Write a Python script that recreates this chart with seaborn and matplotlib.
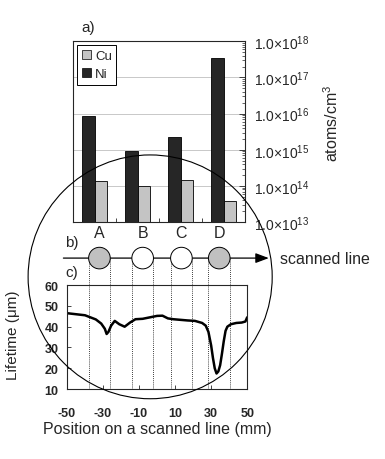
"""Impurity concentrations at spots A-D and lifetime profile along the scanned line."""

import matplotlib.pyplot as plt
import numpy as np
import pandas as pd
import seaborn as sns
from matplotlib.patches import Ellipse, Patch
from matplotlib.ticker import FixedLocator, LogLocator, NullFormatter

sns.set_style("ticks")
plt.rcParams["font.family"] = ["Liberation Sans", "DejaVu Sans"]
plt.rcParams["mathtext.fontset"] = "custom"
plt.rcParams["mathtext.rm"] = "Liberation Sans"

# a) impurity concentrations (atoms/cm3)
sites = ["A", "B", "C", "D"]
ni_conc = [8.5e15, 9.0e14, 2.2e15, 3.4e17]
cu_conc = [1.4e14, 1.0e14, 1.5e14, 3.8e13]
conc_ticks = [1e13, 1e14, 1e15, 1e16, 1e17, 1e18]
conc_labels = ["1.0\u00d710$^{%d}$" % e for e in range(13, 19)]

# b) spot centres on the scanned line (mm) and spot width
spot_centers = [-32, -8, 13.5, 34.5]
spot_width = 12
spot_filled = [True, False, False, True]

# c) lifetime along the scanned line
position = [-50, -45, -40, -37, -34, -31, -29, -28, -27, -25.5, -23.5, -21, -18, -15,
            -12, -8, -4, 0, 3, 6, 9, 13, 17, 21, 25, 27, 28.5, 30, 31, 32, 33, 34,
            35, 36, 37, 38, 39, 41, 44, 47, 49, 50]
lifetime = [46.5, 46, 45.5, 44.5, 43.5, 41.5, 39, 36.5, 37.5, 40.5, 42.8, 41.2, 40, 42,
            43.6, 43.8, 44.5, 45.2, 45.3, 44, 43.6, 43.3, 43, 42.8, 41.8, 40.5, 37.5,
            31, 25, 20, 17.5, 18.5, 21.5, 27, 33, 38, 40, 41.2, 41.8, 42, 42.5, 44.5]
pos_ticks = [-50, -30, -10, 10, 30, 50]
life_ticks = [10, 20, 30, 40, 50, 60]


def main():
    conc = pd.DataFrame({
        "site": sites * 2,
        "element": ["Ni"] * 4 + ["Cu"] * 4,
        "conc": ni_conc + cu_conc,
    })
    profile = pd.DataFrame({"x": position, "y": lifetime})

    fig = plt.figure(figsize=(3.85, 4.6), dpi=100)
    top = fig.add_axes([0.190, 0.515, 0.447, 0.393])
    bot = fig.add_axes([0.174, 0.152, 0.468, 0.226])

    # --- a) bar chart -------------------------------------------------------
    colors = {"Ni": "#262626", "Cu": "#c4c4c4"}
    sns.barplot(data=conc, x="site", y="conc", hue="element", hue_order=["Ni", "Cu"],
                palette=colors, width=0.58, gap=0, edgecolor="black", linewidth=0.6,
                legend=False, ax=top)
    top.set_yscale("log")
    top.set_ylim(1e13, 1e18)
    top.set_xlim(-0.5, 3.5)
    top.set_xlabel("")
    top.set_ylabel("atoms/cm$^3$", fontsize=11.5)
    top.yaxis.set_label_position("right")
    top.yaxis.set_label_coords(1.45, 0.55)
    top.yaxis.tick_right()
    top.yaxis.set_major_locator(FixedLocator(conc_ticks))
    top.set_yticklabels(conc_labels, fontsize=10)
    top.yaxis.set_minor_locator(LogLocator(base=10, subs=np.arange(2, 10)))
    top.yaxis.set_minor_formatter(NullFormatter())
    top.tick_params(axis="y", which="major", direction="in", length=4, pad=6, width=0.6)
    top.tick_params(axis="y", which="minor", direction="in", length=2, width=0.5)
    top.set_xticks([])
    top.set_xticks([0.5, 1.5, 2.5], minor=True)
    top.tick_params(axis="x", which="minor", direction="in", length=3)
    top.grid(axis="y", which="major", color="#c8c8c8", linewidth=0.7)
    top.set_axisbelow(True)
    for sp in top.spines.values():
        sp.set_linewidth(0.8)
    handles = [Patch(facecolor=colors["Cu"], edgecolor="black", linewidth=0.5, label="Cu"),
               Patch(facecolor=colors["Ni"], edgecolor="black", linewidth=0.5, label="Ni")]
    leg = top.legend(handles=handles, loc="upper left", fontsize=9.5, handlelength=0.7,
                     handleheight=0.7, handletextpad=0.3, borderaxespad=0.3,
                     borderpad=0.35, labelspacing=0.45, fancybox=False, framealpha=1)
    leg.get_frame().set_edgecolor("black")
    leg.get_frame().set_linewidth(0.7)
    top.text(0.05, 1.08, "a)", transform=top.transAxes, fontsize=11, ha="left", va="center")

    # --- c) lifetime profile ------------------------------------------------
    sns.lineplot(data=profile, x="x", y="y", color="black", linewidth=1.8, ax=bot)
    bot.set_xlim(-50, 50)
    bot.set_ylim(10, 60)
    bot.set_xticks(pos_ticks)
    bot.set_yticks(life_ticks)
    tick_font = dict(fontsize=9, weight="bold")
    bot.set_xticklabels([str(t) for t in pos_ticks], **tick_font)
    bot.set_yticklabels([str(t) for t in life_ticks], **tick_font)
    bot.tick_params(axis="x", direction="in", length=3, width=0.6, pad=13)
    bot.tick_params(axis="y", direction="in", length=3, width=0.6, pad=6)
    bot.set_xlabel("Position on a scanned line (mm)", fontsize=11.5, labelpad=1)
    bot.set_ylabel("Lifetime (\u03bcm)", fontsize=11)
    bot.yaxis.set_label_coords(-0.26, 0.53)
    for sp in bot.spines.values():
        sp.set_linewidth(0.8)

    # --- b) spots on the scanned line (drawn in c's x units) ----------------
    line_y = 73
    spot_h = spot_width * 1.8 / 2.08
    edges = [c + s * spot_width / 2 for c in spot_centers for s in (-1, 1)]
    bot.vlines(edges, 10, line_y, colors="black", linestyles=(0, (1, 1.5)),
               linewidth=0.6, clip_on=False, zorder=1)
    for c, name, filled in zip(spot_centers, sites, spot_filled):
        bot.add_patch(Ellipse((c, line_y), spot_width, spot_h, clip_on=False, zorder=3,
                              facecolor="#c0c0c0" if filled else "white",
                              edgecolor="black", linewidth=0.7))
        bot.text(c, line_y + 12.5, name, fontsize=11.5, ha="center", va="center")
    bot.annotate("", xy=(62, line_y), xytext=(-52, line_y), annotation_clip=False,
                 arrowprops=dict(arrowstyle="-|>,head_length=0.8,head_width=0.3",
                                 color="black", linewidth=0.9, shrinkA=0, shrinkB=0),
                 zorder=2)
    bot.text(68, line_y, "scanned line", fontsize=11.5, ha="left", va="center")
    bot.text(-51, 80.7, "b)", fontsize=11, ha="left", va="center")
    bot.text(-51, 66.3, "c)", fontsize=11, ha="left", va="center")

    # big circle around the scanned region
    fig.add_artist(Ellipse((0.39, 0.396), 0.634, 0.530, transform=fig.transFigure,
                           fill=False, edgecolor="black", linewidth=0.8))

    fig.savefig("out.png", dpi=100)


if __name__ == '__main__':
    main()
